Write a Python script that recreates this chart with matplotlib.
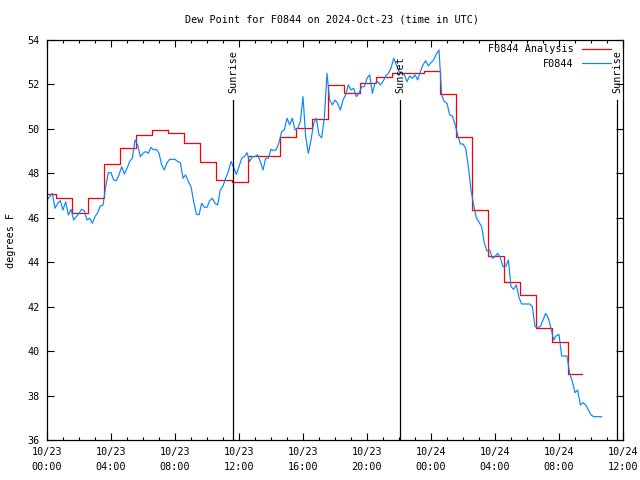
import matplotlib
matplotlib.use("Agg")
import matplotlib.pyplot as plt
from matplotlib.ticker import MultipleLocator

# observed dew point (F), one reading every 10 minutes from 2024-10-23 00:00 UTC
obs_step_min = 10
obs_vals = [
    46.8, 46.95, 47.1, 46.43, 46.65, 46.77, 46.35, 46.72, 46.13, 46.38,
    45.9, 46.05, 46.2, 46.38, 46.32, 45.9, 45.98, 45.75, 46.05, 46.23,
    46.53, 46.57, 47.4, 48.03, 48.03, 47.7, 47.67, 47.93, 48.3, 47.97,
    48.23, 48.53, 48.68, 49.5, 49.28, 48.75, 48.9, 48.98, 48.9, 49.17,
    49.05, 49.08, 48.9, 48.38, 48.15, 48.48, 48.63, 48.63, 48.63, 48.53,
    48.48, 47.78, 47.93, 47.63, 47.4, 46.73, 46.17, 46.13, 46.65, 46.47,
    46.47, 46.77, 46.88, 46.65, 46.58, 47.25, 47.43, 47.78, 48.08, 48.53,
    48.27, 47.95, 48.3, 48.68, 48.75, 48.93, 48.53, 48.75, 48.75, 48.83,
    48.53, 48.15, 48.68, 48.68, 49.08, 49.02, 49.08, 49.38, 49.88, 49.95,
    50.48, 50.18, 50.48, 49.95, 50.03, 50.33, 51.45, 49.65, 48.9, 49.5,
    50.25, 50.48, 49.73, 49.6, 50.5, 52.5, 51.3, 51.08, 51.3, 51.15,
    50.85, 51.3, 51.53, 51.98, 51.75, 51.83, 51.45, 51.6, 51.9, 51.9,
    52.28, 52.43, 51.6, 52.05, 52.13, 51.98, 52.13, 52.38, 52.5, 52.73,
    53.18, 52.88, 52.58, 52.5, 52.43, 52.13, 52.38, 52.28, 52.43, 52.2,
    52.58, 52.88, 53.07, 52.83, 52.98, 53.1, 53.37, 53.55, 51.53, 51.23,
    51.15, 50.63, 50.58, 50.22, 49.73, 49.32, 49.32, 49.13, 48.3, 47.25,
    46.58, 46.0, 45.8, 45.6, 44.85, 44.5, 44.55, 44.18, 44.25, 44.4,
    44.2, 43.8, 43.8, 44.1, 42.9, 42.78, 42.98, 42.4, 42.12, 42.12,
    42.12, 42.12, 42.0, 41.1, 41.07, 41.1, 41.4, 41.7, 41.48, 41.03,
    40.5, 40.7, 40.74, 39.78, 39.78, 39.78, 39.0, 38.63, 38.13, 38.25,
    37.58, 37.68, 37.58, 37.35, 37.13, 37.05, 37.05, 37.05, 37.05,
]

# hourly analysis values; each one takes over a little after the hour
ana_vals = [
    47.06, 46.88, 46.23, 46.88, 48.41, 49.13, 49.72, 49.93, 49.8, 49.35,
    48.5, 47.7, 47.6, 48.77, 48.77, 49.62, 50.02, 50.43, 51.99, 51.63,
    52.05, 52.32, 52.5, 52.5, 52.6, 51.57, 49.62, 46.35, 44.28, 43.1,
    42.53, 41.03, 40.4, 38.96,
]
ana_switch = 0.55
ana_end = 33.45

sun_names = ["Sunrise", "Sunset", "Sunrise"]
sun_hours = [11.63, 22.07, 35.63]

tick_hours = [0, 4, 8, 12, 16, 20, 24, 28, 32, 36]
tick_labels = ["10/23\n00:00", "10/23\n04:00", "10/23\n08:00", "10/23\n12:00",
               "10/23\n16:00", "10/23\n20:00", "10/24\n00:00", "10/24\n04:00",
               "10/24\n08:00", "10/24\n12:00"]

FONT = "DejaVu Sans Mono"
FS = 7.3

obs_hours = [i * obs_step_min / 60 for i in range(len(obs_vals))]
ana_x = [0] + [k + ana_switch for k in range(len(ana_vals) - 1)] + [ana_end]
ana_y = ana_vals + [ana_vals[-1]]

fig = plt.figure(figsize=(6.4, 4.8), dpi=100)
ax = fig.add_axes([47 / 640, 40 / 480, 576 / 640, 400 / 480])

ax.step(ana_x, ana_y, where="post", color="#ff0000", lw=0.9, label="F0844 Analysis")
ax.plot(obs_hours, obs_vals, color="#0a84ff", lw=0.85, label="F0844")

for name, hr in zip(sun_names, sun_hours):
    ax.axvline(hr, ymin=0, ymax=0.85, color="black", lw=0.9)
    ax.text(hr, 0.868, name, transform=ax.get_xaxis_transform(), rotation=90,
            ha="center", va="bottom", fontsize=FS, family=FONT)

ax.set_xlim(0, 36)
ax.set_ylim(36, 54)
ax.set_xticks(tick_hours)
ax.set_xticklabels(tick_labels, fontsize=FS, family=FONT, linespacing=1.6)
ax.xaxis.set_minor_locator(MultipleLocator(1))
ax.set_yticks(range(36, 55, 2))
for lab in ax.get_yticklabels():
    lab.set_fontsize(FS)
    lab.set_family(FONT)
ax.tick_params(which="both", direction="in", top=True, right=True, width=0.8)
ax.tick_params(which="major", length=5, pad=5)
ax.tick_params(which="minor", length=2.5)
for sp in ax.spines.values():
    sp.set_linewidth(0.9)

leg = ax.legend(loc="upper right", bbox_to_anchor=(0.99, 1.004), frameon=False,
                markerfirst=False, handlelength=2.9, borderaxespad=0.2,
                labelspacing=0.4, prop={"family": FONT, "size": FS})

fig.text(332 / 640, 1 - 20 / 480, "Dew Point for F0844 on 2024-Oct-23 (time in UTC)",
         ha="center", va="center", fontsize=FS, family=FONT)
fig.text(11 / 640, 0.5, "degrees F", rotation=90, ha="center", va="center",
         fontsize=FS, family=FONT)

fig.savefig("out.png", dpi=100)
